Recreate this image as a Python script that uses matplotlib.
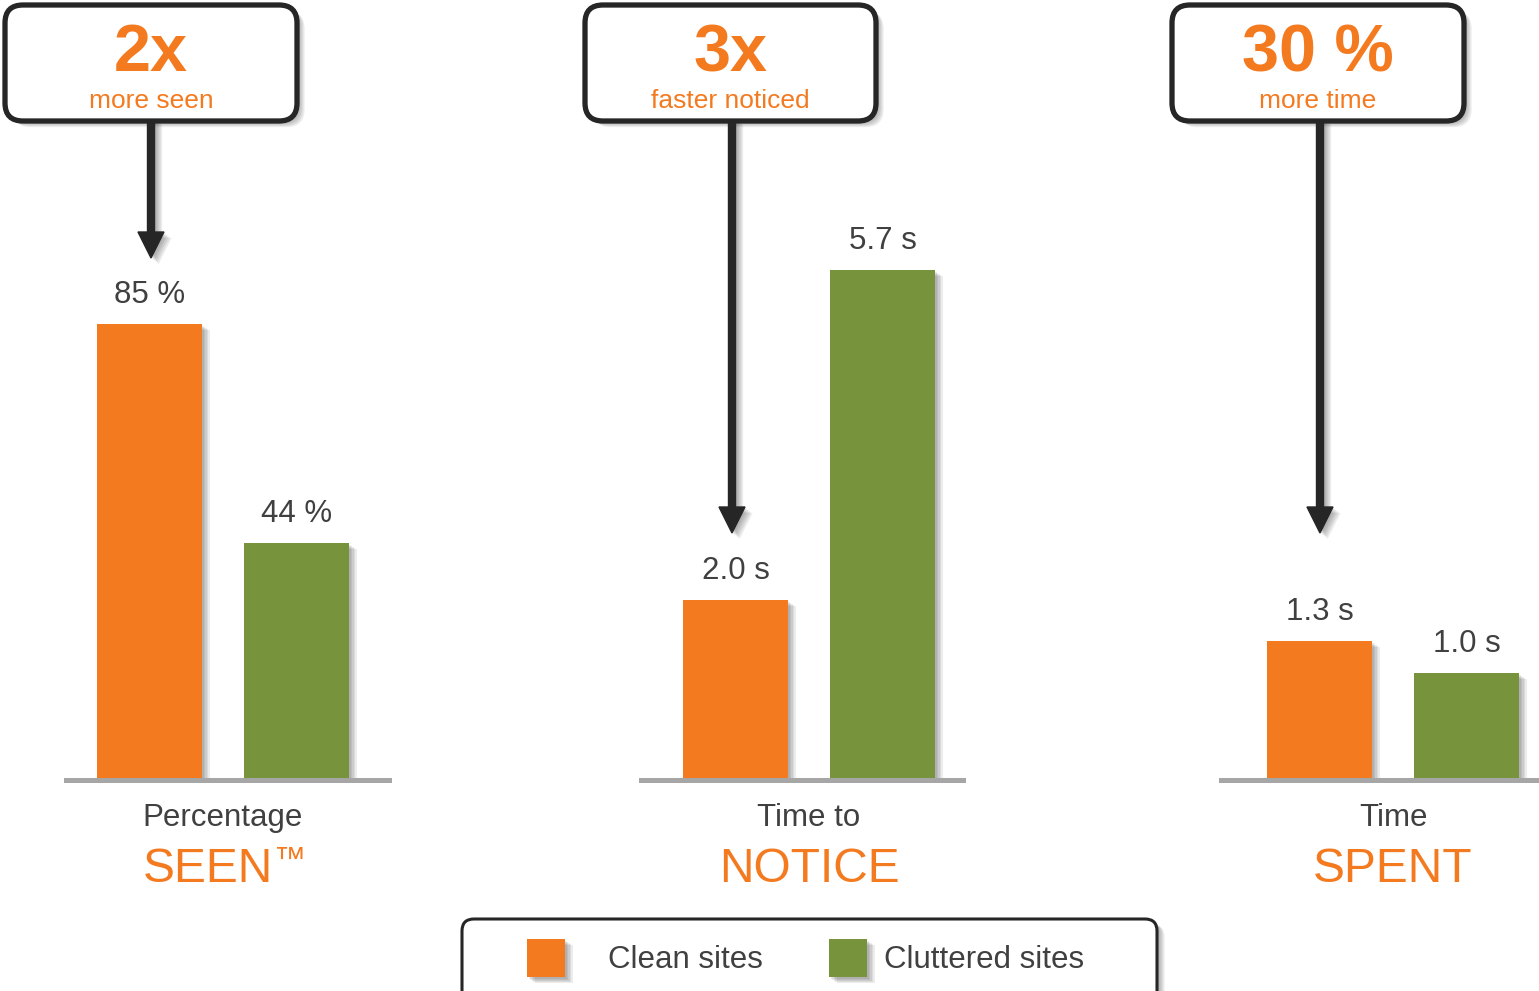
import matplotlib
matplotlib.use("Agg")
import matplotlib.pyplot as plt
import matplotlib.patheffects as pe
from matplotlib.patches import FancyBboxPatch, FancyArrow, Rectangle

plt.rcParams['font.family'] = ['Liberation Sans', 'DejaVu Sans']

# data
series = ['Clean sites', 'Cluttered sites']
seen_vals = [85, 44]
notice_vals = [2.0, 5.7]
spent_vals = [1.3, 1.0]
seen_labels = ['85 %', '44 %']
notice_labels = ['2.0 s', '5.7 s']
spent_labels = ['1.3 s', '1.0 s']
titles_top = ['Percentage', 'Time to', 'Time']
titles_big = ['SEEN\u2122', 'NOTICE', 'SPENT']
callout_big = ['2x', '3x', '30 %']
callout_small = ['more seen', 'faster noticed', 'more time']

ORANGE = '#F47A20'
GREEN = '#77933C'
TEXT = '#404040'
DARK = '#262626'
BASE = '#A6A6A6'

W, H = 1539, 991
fig = plt.figure(figsize=(W / 100, H / 100), dpi=100)


def rect(x0, y0, x1, y1):
    return [x0 / W, 1 - y1 / H, (x1 - x0) / W, (y1 - y0) / H]


# soft drop shadow: a few stacked faint offsets
shadow = [pe.SimplePatchShadow(offset=(d, -d * 0.8), shadow_rgbFace='#333333', alpha=0.09)
          for d in (1.5, 2.5, 3.5, 4.5, 5.5)] + [pe.Normal()]

# panel layout: (left px, right px, xlim, ymax)
panels = [
    (66, 389, (-0.568, 1.629), 108.2, seen_vals, seen_labels),
    (641, 963, (-0.643, 1.548), 6.49, notice_vals, notice_labels),
    (1221, 1539, (-0.670, 1.493), 5.50, spent_vals, spent_labels),
]
baseline_px = 778

for i, (x0, x1, xl, ymax, vals, labs) in enumerate(panels):
    ax = fig.add_axes(rect(x0, 200, x1, baseline_px))
    ax.patch.set_visible(False)
    bars = ax.bar([0, 1], vals, width=0.714, color=[ORANGE, GREEN], zorder=3)
    for b in bars:
        b.set_path_effects(shadow)
    ax.set_xlim(*xl)
    ax.set_ylim(0, ymax)
    for s in ['top', 'left', 'right']:
        ax.spines[s].set_visible(False)
    ax.spines['bottom'].set_color(BASE)
    ax.spines['bottom'].set_linewidth(3.6)
    ax.spines['bottom'].set_position(('outward', 1.5))
    ax.set_xticks([])
    ax.set_yticks([])
    for x, v, t in zip([0, 1], vals, labs):
        ax.annotate(t, (x, v), xytext=(0, 21), textcoords='offset points',
                    ha='center', va='center', fontsize=22.5, color=TEXT)
    ax.annotate(titles_top[i], (0.5, 0), xytext=(0, -29), textcoords='offset points',
                ha='center', va='center', fontsize=22.5, color=TEXT, annotation_clip=False)
    big = titles_big[i]
    if big.endswith('\u2122'):
        # trademark sign drawn smaller, level with the cap tops
        ax.annotate(big[:-1], (0.5, 0), xytext=(-11, -66), textcoords='offset points',
                    ha='center', va='center', fontsize=34.5, color=ORANGE, annotation_clip=False)
        ax.annotate(big[-1], (0.5, 0), xytext=(36, -60), textcoords='offset points',
                    ha='left', va='center', fontsize=23, color=ORANGE, annotation_clip=False)
    else:
        ax.annotate(big, (0.5, 0), xytext=(0, -66), textcoords='offset points',
                    ha='center', va='center', fontsize=34.5, color=ORANGE, annotation_clip=False)

# overlay for callouts and legend, in pixel units
ov = fig.add_axes([0, 0, 1, 1])
ov.set_xlim(0, W)
ov.set_ylim(H, 0)
ov.axis('off')

boxes = [(5, 297, 151, 258), (585, 876, 732, 533), (1172, 1464, 1320, 533)]
for (bx0, bx1, ax_x, tip), big, small in zip(boxes, callout_big, callout_small):
    arr = FancyArrow(ax_x, 118, 0, tip - 118, width=7, head_width=26, head_length=26,
                     length_includes_head=True, color=DARK, zorder=2)
    arr.set_path_effects(shadow)
    ov.add_patch(arr)
    box = FancyBboxPatch((bx0, 5), bx1 - bx0, 116, boxstyle='round,pad=0,rounding_size=18',
                         fc='white', ec=DARK, lw=3.8, zorder=3)
    box.set_path_effects(shadow)
    ov.add_patch(box)
    cx = (bx0 + bx1) / 2
    ov.text(cx, 71, big, ha='center', va='baseline', fontsize=48, fontweight='bold',
            color=ORANGE, zorder=4)
    ov.text(cx, 108, small, ha='center', va='baseline', fontsize=19, color=ORANGE, zorder=4)

# legend
leg = FancyBboxPatch((462, 919), 695, 95, boxstyle='round,pad=0,rounding_size=12',
                     fc='white', ec=DARK, lw=2.2, zorder=3)
leg.set_path_effects(shadow)
ov.add_patch(leg)
for sx, tx, col, name in [(527, 608, ORANGE, series[0]), (829, 884, GREEN, series[1])]:
    sq = Rectangle((sx, 939), 38, 38, fc=col, ec='none', zorder=4)
    sq.set_path_effects(shadow)
    ov.add_patch(sq)
    ov.text(tx, 960, name, ha='left', va='center', fontsize=22.5, color=TEXT, zorder=4)

fig.savefig('out.png', dpi=100)
